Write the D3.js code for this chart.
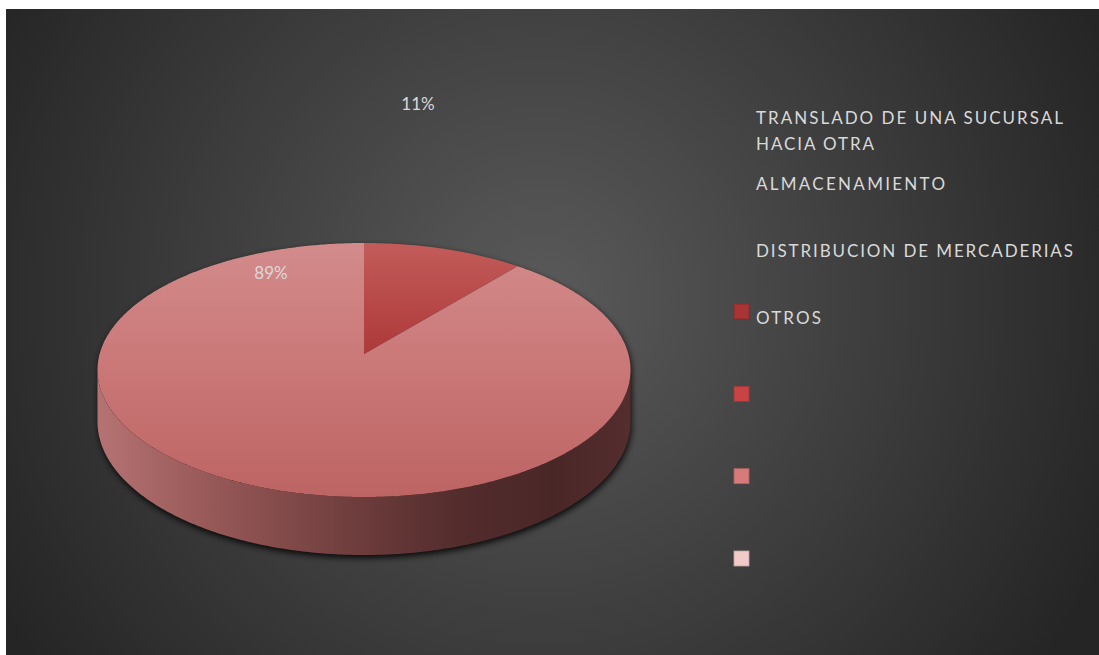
<!DOCTYPE html>
<html>
<head>
<meta charset="utf-8">
<script src="https://cdn.jsdelivr.net/npm/d3@7"></script>
<style>
  html, body { margin: 0; padding: 0; background: #ffffff; }
  svg { display: block; }
</style>
</head>
<body>
<svg id="chart" width="1099" height="655"></svg>
<script>
// Categories and their shares (percent)
const categories = [
  "TRANSLADO DE UNA SUCURSAL HACIA OTRA",
  "ALMACENAMIENTO",
  "DISTRIBUCION DE MERCADERIAS",
  "OTROS"
];
const values = [11, 0, 89, 0];
const sliceColors = ["#a83434", "#c84444", "#d67a7a", "#f2caca"];
// Legend text lines (first category wraps onto two lines)
const legendLines = [
  ["TRANSLADO DE UNA SUCURSAL", "HACIA OTRA"],
  ["ALMACENAMIENTO"],
  ["DISTRIBUCION DE MERCADERIAS"],
  ["OTROS"]
];

const svg = d3.select("#chart");
const W = 1099, H = 655;
const defs = svg.append("defs");

// ---- background panel ----
const bg = defs.append("radialGradient").attr("id", "bgGrad")
  .attr("gradientUnits", "userSpaceOnUse")
  .attr("cx", 540).attr("cy", 300).attr("r", 620);
bg.append("stop").attr("offset", 0).attr("stop-color", "#5a5a5a");
bg.append("stop").attr("offset", 1).attr("stop-color", "#252525");
svg.append("rect").attr("x", 6).attr("y", 9).attr("width", W - 6).attr("height", H - 9)
  .attr("fill", "url(#bgGrad)");

// ---- 3D pie geometry (tilted disc with mild perspective) ----
const P = { cx: 364, cy: 354, A: 264.4, B: 125, k: 0.126, depth: 50.7 };
function proj(theta, z) {
  const d = 1 + P.k * Math.cos(theta);
  return [P.cx + P.A * Math.sin(theta) / d,
          P.cy - P.B * Math.cos(theta) / d + (z ? P.depth / d : 0)];
}
function arcPoints(a0, a1, z) {
  const n = Math.max(2, Math.ceil(Math.abs(a1 - a0) / 0.01));
  return d3.range(n + 1).map(i => proj(a0 + (a1 - a0) * i / n, z));
}
const line = d3.line();

const pie = d3.pie().sort(null).value(d => d.v).startAngle(0).endAngle(2 * Math.PI);
const arcs = pie(values.map((v, i) => ({ v, i }))).filter(a => a.data.v > 0);

const thL = 2 * Math.PI - Math.acos(-P.k);   // left silhouette edge
const thR = Math.acos(-P.k);                 // right silhouette edge

// drop shadow under the disc
const shadowF = defs.append("filter").attr("id", "shadow")
  .attr("x", "-10%").attr("y", "-10%").attr("width", "120%").attr("height", "130%");
shadowF.append("feGaussianBlur").attr("stdDeviation", 3);
const silhouette = arcPoints(thR, thL, 1).concat(arcPoints(thL, thR + 2 * Math.PI, 0));
svg.append("path")
  .attr("d", line(silhouette) + "Z")
  .attr("transform", "translate(1,3)")
  .attr("fill", "#000").attr("opacity", 0.85)
  .attr("filter", "url(#shadow)");

// side wall gradient
const sideG = defs.append("linearGradient").attr("id", "sideGrad")
  .attr("gradientUnits", "userSpaceOnUse")
  .attr("x1", P.cx - P.A).attr("x2", P.cx + P.A).attr("y1", 0).attr("y2", 0);
[[0, "#b57272"], [0.22, "#965757"], [0.48, "#6f3d3d"], [0.68, "#532c2c"],
 [0.86, "#4a2727"], [1, "#542d2d"]].forEach(([o, c]) =>
  sideG.append("stop").attr("offset", o).attr("stop-color", c));

// front side wall (visible half, from right edge through front to left edge)
const sidePts = arcPoints(thR, thL, 0).concat(arcPoints(thL, thR, 1));
svg.append("path").attr("d", line(sidePts) + "Z").attr("fill", "url(#sideGrad)");

// top face gradients for each slice
const topY0 = proj(0, 0)[1], topY1 = proj(Math.PI, 0)[1];
function topGradient(id, stops) {
  const g = defs.append("linearGradient").attr("id", id)
    .attr("gradientUnits", "userSpaceOnUse")
    .attr("x1", 0).attr("x2", 0).attr("y1", topY0).attr("y2", topY1);
  stops.forEach(([o, c]) => g.append("stop").attr("offset", o).attr("stop-color", c));
}
topGradient("top0", [[0, "#c25c5a"], [0.45, "#ad3838"], [1, "#9c2e2e"]]);
topGradient("top1", [[0, "#cc5555"], [1, "#b23a3a"]]);
topGradient("top2", [[0, "#d38b8b"], [0.5, "#ca7777"], [1, "#bd6464"]]);
topGradient("top3", [[0, "#f2caca"], [1, "#e6b0b0"]]);

svg.append("g").selectAll("path").data(arcs).join("path")
  .attr("d", a => line([[P.cx, P.cy]].concat(arcPoints(a.startAngle, a.endAngle, 0))) + "Z")
  .attr("fill", a => `url(#top${a.data.i})`);

// ---- data labels ----
const labelFont = "Lato, 'Open Sans', sans-serif";
const labelAnchor = {
  0: [P.cx + 54, 110],
  2: [P.cx - 93, 279]
};
svg.append("g").selectAll("text").data(arcs).join("text")
  .attr("x", a => labelAnchor[a.data.i][0])
  .attr("y", a => labelAnchor[a.data.i][1])
  .attr("text-anchor", "middle")
  .attr("font-family", labelFont).attr("font-size", 17)
  .attr("fill", "#d9d9d9")
  .text(a => Math.round(a.data.v / d3.sum(values) * 100) + "%");

// ---- legend ----
const legendX = 756;
const legendTextY = [[124, 150], [190], [257], [324]];
const legendTextW = [[307, 118], [189], [317], [65]];
const lg = svg.append("g");
legendLines.forEach((lines, i) => {
  lines.forEach((t, j) => {
    lg.append("text")
      .attr("x", legendX).attr("y", legendTextY[i][j])
      .attr("font-family", labelFont).attr("font-size", 17)
      .attr("fill", "#d9d9d9")
      .attr("textLength", legendTextW[i][j]).attr("lengthAdjust", "spacing")
      .text(t);
  });
});
const swY = d3.scaleLinear().domain([0, 3]).range([304, 551]);
lg.selectAll("rect").data(categories).join("rect")
  .attr("x", 734).attr("y", (d, i) => swY(i))
  .attr("width", 15).attr("height", 15)
  .attr("fill", (d, i) => sliceColors[i])
  .attr("stroke", (d, i) => d3.color(sliceColors[i]).darker(0.6))
  .attr("stroke-width", 0.8);
</script>
</body>
</html>
